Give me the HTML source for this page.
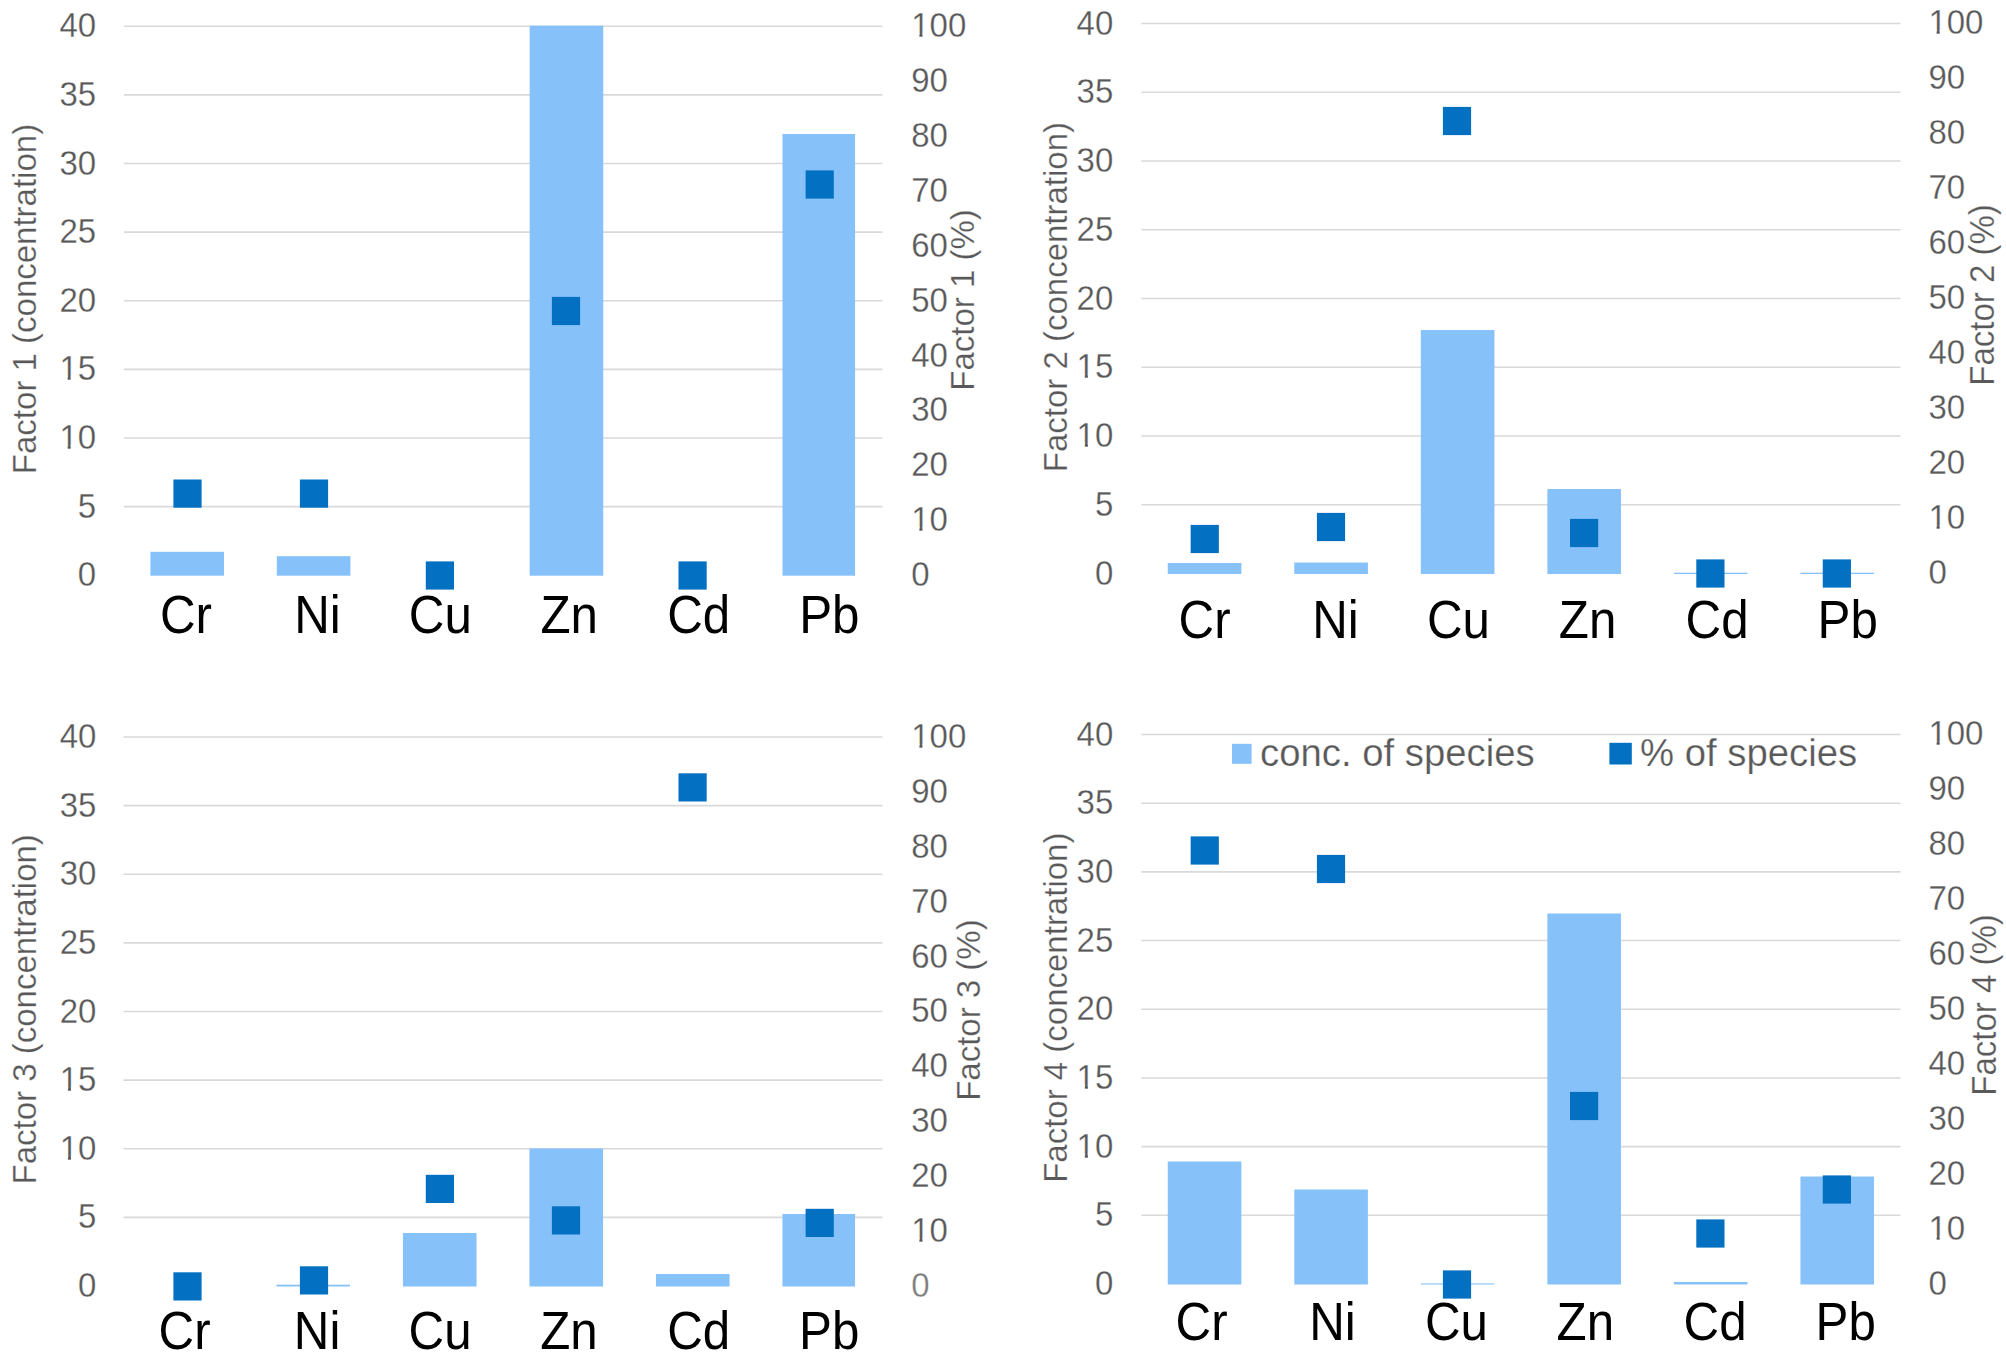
<!DOCTYPE html>
<html lang="en"><head><meta charset="utf-8"><title>Factor profiles</title>
<style>html,body{margin:0;padding:0;background:#fff}body{width:2006px;height:1362px;overflow:hidden}svg{display:block}text{font-family:"Liberation Sans", Arial, sans-serif}.t{fill:#595959;font-size:33.0px}.ti{fill:#595959;font-size:33px}.c{fill:#000;font-size:49.3px}.l{fill:#595959;font-size:38.3px}.t,.ti,.l{stroke:#fff;stroke-width:0.25px}</style>
</head><body>
<svg width="2006" height="1362" viewBox="0 0 2006 1362">
<rect width="2006" height="1362" fill="#fff"/>
<g>
<line x1="124.00" y1="506.58" x2="882.50" y2="506.58" stroke="#d9d9d9" stroke-width="1.6"/>
<line x1="124.00" y1="437.95" x2="882.50" y2="437.95" stroke="#d9d9d9" stroke-width="1.6"/>
<line x1="124.00" y1="369.33" x2="882.50" y2="369.33" stroke="#d9d9d9" stroke-width="1.6"/>
<line x1="124.00" y1="300.70" x2="882.50" y2="300.70" stroke="#d9d9d9" stroke-width="1.6"/>
<line x1="124.00" y1="232.08" x2="882.50" y2="232.08" stroke="#d9d9d9" stroke-width="1.6"/>
<line x1="124.00" y1="163.45" x2="882.50" y2="163.45" stroke="#d9d9d9" stroke-width="1.6"/>
<line x1="124.00" y1="94.83" x2="882.50" y2="94.83" stroke="#d9d9d9" stroke-width="1.6"/>
<line x1="124.00" y1="26.20" x2="882.50" y2="26.20" stroke="#d9d9d9" stroke-width="1.6"/>
<rect x="150.41" y="551.80" width="73.60" height="23.90" fill="#87c1f9"/>
<rect x="276.82" y="556.20" width="73.60" height="19.50" fill="#87c1f9"/>
<rect x="529.66" y="25.70" width="73.60" height="550.00" fill="#87c1f9"/>
<rect x="782.49" y="134.00" width="72.60" height="441.70" fill="#87c1f9"/>
<rect x="173.40" y="479.50" width="28.20" height="28.20" fill="#0370c1"/>
<rect x="299.90" y="479.50" width="28.20" height="28.20" fill="#0370c1"/>
<rect x="425.80" y="561.40" width="28.20" height="28.20" fill="#0370c1"/>
<rect x="551.90" y="296.90" width="28.20" height="28.20" fill="#0370c1"/>
<rect x="678.50" y="561.40" width="28.20" height="28.20" fill="#0370c1"/>
<rect x="805.60" y="170.40" width="28.20" height="28.20" fill="#0370c1"/>
<text class="t" transform="translate(96.10 586.30) scale(1 1.065)" text-anchor="end">0</text>
<text class="t" transform="translate(96.10 517.68) scale(1 1.065)" text-anchor="end">5</text>
<text class="t" transform="translate(96.10 449.05) scale(1 1.065)" text-anchor="end">10</text>
<text class="t" transform="translate(96.10 380.43) scale(1 1.065)" text-anchor="end">15</text>
<text class="t" transform="translate(96.10 311.80) scale(1 1.065)" text-anchor="end">20</text>
<text class="t" transform="translate(96.10 243.18) scale(1 1.065)" text-anchor="end">25</text>
<text class="t" transform="translate(96.10 174.55) scale(1 1.065)" text-anchor="end">30</text>
<text class="t" transform="translate(96.10 105.93) scale(1 1.065)" text-anchor="end">35</text>
<text class="t" transform="translate(96.10 37.30) scale(1 1.065)" text-anchor="end">40</text>
<text class="t" transform="translate(911.20 586.10) scale(1 1.065)">0</text>
<text class="t" transform="translate(911.20 531.20) scale(1 1.065)">10</text>
<text class="t" transform="translate(911.20 476.30) scale(1 1.065)">20</text>
<text class="t" transform="translate(911.20 421.40) scale(1 1.065)">30</text>
<text class="t" transform="translate(911.20 366.50) scale(1 1.065)">40</text>
<text class="t" transform="translate(911.20 311.60) scale(1 1.065)">50</text>
<text class="t" transform="translate(911.20 256.70) scale(1 1.065)">60</text>
<text class="t" transform="translate(911.20 201.80) scale(1 1.065)">70</text>
<text class="t" transform="translate(911.20 146.90) scale(1 1.065)">80</text>
<text class="t" transform="translate(911.20 92.00) scale(1 1.065)">90</text>
<text class="t" transform="translate(911.20 37.10) scale(1 1.065)">100</text>
<rect x="61.01" y="444.92" width="6.58" height="4.83" fill="#fff"/>
<rect x="70.71" y="444.92" width="6.33" height="4.83" fill="#fff"/>
<rect x="61.01" y="376.30" width="6.58" height="4.83" fill="#fff"/>
<rect x="70.71" y="376.30" width="6.33" height="4.83" fill="#fff"/>
<rect x="912.81" y="527.07" width="6.58" height="4.83" fill="#fff"/>
<rect x="922.51" y="527.07" width="6.33" height="4.83" fill="#fff"/>
<rect x="912.81" y="32.97" width="6.58" height="4.83" fill="#fff"/>
<rect x="922.51" y="32.97" width="6.33" height="4.83" fill="#fff"/>
<text class="ti" transform="translate(36.00 299.00) rotate(-90) scale(1 1.020)" text-anchor="middle">Factor 1 (concentration)</text>
<text class="ti" transform="translate(974.00 300.00) rotate(-90) scale(1 1.020)" text-anchor="middle">Factor 1 (%)</text>
<text class="c" transform="translate(186.01 632.90) scale(1 1.075)" text-anchor="middle">Cr</text>
<text class="c" transform="translate(317.43 632.90) scale(1 1.075)" text-anchor="middle">Ni</text>
<text class="c" transform="translate(440.34 632.90) scale(1 1.075)" text-anchor="middle">Cu</text>
<text class="c" transform="translate(569.16 632.90) scale(1 1.075)" text-anchor="middle">Zn</text>
<text class="c" transform="translate(698.77 632.90) scale(1 1.075)" text-anchor="middle">Cd</text>
<text class="c" transform="translate(829.29 632.90) scale(1 1.075)" text-anchor="middle">Pb</text>
</g>
<g>
<line x1="1141.30" y1="504.75" x2="1900.50" y2="504.75" stroke="#d9d9d9" stroke-width="1.6"/>
<line x1="1141.30" y1="436.00" x2="1900.50" y2="436.00" stroke="#d9d9d9" stroke-width="1.6"/>
<line x1="1141.30" y1="367.25" x2="1900.50" y2="367.25" stroke="#d9d9d9" stroke-width="1.6"/>
<line x1="1141.30" y1="298.50" x2="1900.50" y2="298.50" stroke="#d9d9d9" stroke-width="1.6"/>
<line x1="1141.30" y1="229.75" x2="1900.50" y2="229.75" stroke="#d9d9d9" stroke-width="1.6"/>
<line x1="1141.30" y1="161.00" x2="1900.50" y2="161.00" stroke="#d9d9d9" stroke-width="1.6"/>
<line x1="1141.30" y1="92.25" x2="1900.50" y2="92.25" stroke="#d9d9d9" stroke-width="1.6"/>
<line x1="1141.30" y1="23.50" x2="1900.50" y2="23.50" stroke="#d9d9d9" stroke-width="1.6"/>
<rect x="1167.77" y="563.00" width="73.60" height="11.00" fill="#87c1f9"/>
<rect x="1294.30" y="562.50" width="73.60" height="11.50" fill="#87c1f9"/>
<rect x="1420.83" y="330.00" width="73.60" height="244.00" fill="#87c1f9"/>
<rect x="1547.37" y="489.00" width="73.60" height="85.00" fill="#87c1f9"/>
<rect x="1673.90" y="572.70" width="73.60" height="1.30" fill="#87c1f9"/>
<rect x="1800.43" y="572.70" width="73.60" height="1.30" fill="#87c1f9"/>
<rect x="1190.65" y="524.90" width="28.20" height="28.20" fill="#0370c1"/>
<rect x="1316.90" y="512.90" width="28.20" height="28.20" fill="#0370c1"/>
<rect x="1442.90" y="106.90" width="28.20" height="28.20" fill="#0370c1"/>
<rect x="1570.00" y="518.90" width="28.20" height="28.20" fill="#0370c1"/>
<rect x="1696.30" y="559.40" width="28.20" height="28.20" fill="#0370c1"/>
<rect x="1822.75" y="559.40" width="28.20" height="28.20" fill="#0370c1"/>
<text class="t" transform="translate(1113.30 584.60) scale(1 1.065)" text-anchor="end">0</text>
<text class="t" transform="translate(1113.30 515.85) scale(1 1.065)" text-anchor="end">5</text>
<text class="t" transform="translate(1113.30 447.10) scale(1 1.065)" text-anchor="end">10</text>
<text class="t" transform="translate(1113.30 378.35) scale(1 1.065)" text-anchor="end">15</text>
<text class="t" transform="translate(1113.30 309.60) scale(1 1.065)" text-anchor="end">20</text>
<text class="t" transform="translate(1113.30 240.85) scale(1 1.065)" text-anchor="end">25</text>
<text class="t" transform="translate(1113.30 172.10) scale(1 1.065)" text-anchor="end">30</text>
<text class="t" transform="translate(1113.30 103.35) scale(1 1.065)" text-anchor="end">35</text>
<text class="t" transform="translate(1113.30 34.60) scale(1 1.065)" text-anchor="end">40</text>
<text class="t" transform="translate(1928.40 584.40) scale(1 1.065)">0</text>
<text class="t" transform="translate(1928.40 529.40) scale(1 1.065)">10</text>
<text class="t" transform="translate(1928.40 474.40) scale(1 1.065)">20</text>
<text class="t" transform="translate(1928.40 419.40) scale(1 1.065)">30</text>
<text class="t" transform="translate(1928.40 364.40) scale(1 1.065)">40</text>
<text class="t" transform="translate(1928.40 309.40) scale(1 1.065)">50</text>
<text class="t" transform="translate(1928.40 254.40) scale(1 1.065)">60</text>
<text class="t" transform="translate(1928.40 199.40) scale(1 1.065)">70</text>
<text class="t" transform="translate(1928.40 144.40) scale(1 1.065)">80</text>
<text class="t" transform="translate(1928.40 89.40) scale(1 1.065)">90</text>
<text class="t" transform="translate(1928.40 34.40) scale(1 1.065)">100</text>
<rect x="1078.21" y="442.97" width="6.58" height="4.83" fill="#fff"/>
<rect x="1087.91" y="442.97" width="6.33" height="4.83" fill="#fff"/>
<rect x="1078.21" y="374.22" width="6.58" height="4.83" fill="#fff"/>
<rect x="1087.91" y="374.22" width="6.33" height="4.83" fill="#fff"/>
<rect x="1930.01" y="525.27" width="6.58" height="4.83" fill="#fff"/>
<rect x="1939.71" y="525.27" width="6.33" height="4.83" fill="#fff"/>
<rect x="1930.01" y="30.27" width="6.58" height="4.83" fill="#fff"/>
<rect x="1939.71" y="30.27" width="6.33" height="4.83" fill="#fff"/>
<text class="ti" transform="translate(1067.40 297.10) rotate(-90) scale(1 1.030)" text-anchor="middle">Factor 2 (concentration)</text>
<text class="ti" transform="translate(1993.90 295.00) rotate(-90) scale(1 1.040)" text-anchor="middle">Factor 2 (%)</text>
<text class="c" transform="translate(1204.57 637.90) scale(1 1.075)" text-anchor="middle">Cr</text>
<text class="c" transform="translate(1335.40 637.90) scale(1 1.075)" text-anchor="middle">Ni</text>
<text class="c" transform="translate(1458.43 637.90) scale(1 1.075)" text-anchor="middle">Cu</text>
<text class="c" transform="translate(1587.57 637.90) scale(1 1.075)" text-anchor="middle">Zn</text>
<text class="c" transform="translate(1717.10 637.90) scale(1 1.075)" text-anchor="middle">Cd</text>
<text class="c" transform="translate(1847.73 637.90) scale(1 1.075)" text-anchor="middle">Pb</text>
</g>
<g>
<line x1="123.50" y1="1217.38" x2="882.50" y2="1217.38" stroke="#d9d9d9" stroke-width="1.6"/>
<line x1="123.50" y1="1148.75" x2="882.50" y2="1148.75" stroke="#d9d9d9" stroke-width="1.6"/>
<line x1="123.50" y1="1080.12" x2="882.50" y2="1080.12" stroke="#d9d9d9" stroke-width="1.6"/>
<line x1="123.50" y1="1011.50" x2="882.50" y2="1011.50" stroke="#d9d9d9" stroke-width="1.6"/>
<line x1="123.50" y1="942.88" x2="882.50" y2="942.88" stroke="#d9d9d9" stroke-width="1.6"/>
<line x1="123.50" y1="874.25" x2="882.50" y2="874.25" stroke="#d9d9d9" stroke-width="1.6"/>
<line x1="123.50" y1="805.62" x2="882.50" y2="805.62" stroke="#d9d9d9" stroke-width="1.6"/>
<line x1="123.50" y1="737.00" x2="882.50" y2="737.00" stroke="#d9d9d9" stroke-width="1.6"/>
<rect x="276.45" y="1284.70" width="73.60" height="1.80" fill="#87c1f9"/>
<rect x="402.95" y="1233.00" width="73.60" height="53.50" fill="#87c1f9"/>
<rect x="529.45" y="1148.50" width="73.60" height="138.00" fill="#87c1f9"/>
<rect x="655.95" y="1274.00" width="73.60" height="12.50" fill="#87c1f9"/>
<rect x="782.45" y="1214.00" width="72.60" height="72.50" fill="#87c1f9"/>
<rect x="173.40" y="1272.30" width="28.20" height="28.20" fill="#0370c1"/>
<rect x="299.90" y="1266.30" width="28.20" height="28.20" fill="#0370c1"/>
<rect x="425.80" y="1174.80" width="28.20" height="28.20" fill="#0370c1"/>
<rect x="551.90" y="1206.30" width="28.20" height="28.20" fill="#0370c1"/>
<rect x="678.50" y="773.30" width="28.20" height="28.20" fill="#0370c1"/>
<rect x="805.60" y="1208.80" width="28.20" height="28.20" fill="#0370c1"/>
<text class="t" transform="translate(96.40 1297.10) scale(1 1.065)" text-anchor="end">0</text>
<text class="t" transform="translate(96.40 1228.47) scale(1 1.065)" text-anchor="end">5</text>
<text class="t" transform="translate(96.40 1159.85) scale(1 1.065)" text-anchor="end">10</text>
<text class="t" transform="translate(96.40 1091.22) scale(1 1.065)" text-anchor="end">15</text>
<text class="t" transform="translate(96.40 1022.60) scale(1 1.065)" text-anchor="end">20</text>
<text class="t" transform="translate(96.40 953.98) scale(1 1.065)" text-anchor="end">25</text>
<text class="t" transform="translate(96.40 885.35) scale(1 1.065)" text-anchor="end">30</text>
<text class="t" transform="translate(96.40 816.73) scale(1 1.065)" text-anchor="end">35</text>
<text class="t" transform="translate(96.40 748.10) scale(1 1.065)" text-anchor="end">40</text>
<text class="t" style="fill:#7d7d7d" transform="translate(911.20 1296.90) scale(1 1.065)">0</text>
<text class="t" transform="translate(911.20 1242.00) scale(1 1.065)">10</text>
<text class="t" transform="translate(911.20 1187.10) scale(1 1.065)">20</text>
<text class="t" transform="translate(911.20 1132.20) scale(1 1.065)">30</text>
<text class="t" transform="translate(911.20 1077.30) scale(1 1.065)">40</text>
<text class="t" transform="translate(911.20 1022.40) scale(1 1.065)">50</text>
<text class="t" transform="translate(911.20 967.50) scale(1 1.065)">60</text>
<text class="t" transform="translate(911.20 912.60) scale(1 1.065)">70</text>
<text class="t" transform="translate(911.20 857.70) scale(1 1.065)">80</text>
<text class="t" transform="translate(911.20 802.80) scale(1 1.065)">90</text>
<text class="t" transform="translate(911.20 747.90) scale(1 1.065)">100</text>
<rect x="61.31" y="1155.72" width="6.58" height="4.83" fill="#fff"/>
<rect x="71.01" y="1155.72" width="6.33" height="4.83" fill="#fff"/>
<rect x="61.31" y="1087.10" width="6.58" height="4.83" fill="#fff"/>
<rect x="71.01" y="1087.10" width="6.33" height="4.83" fill="#fff"/>
<rect x="912.81" y="1237.87" width="6.58" height="4.83" fill="#fff"/>
<rect x="922.51" y="1237.87" width="6.33" height="4.83" fill="#fff"/>
<rect x="912.81" y="743.77" width="6.58" height="4.83" fill="#fff"/>
<rect x="922.51" y="743.77" width="6.33" height="4.83" fill="#fff"/>
<text class="ti" transform="translate(36.10 1009.30) rotate(-90) scale(1 1.020)" text-anchor="middle">Factor 3 (concentration)</text>
<text class="ti" transform="translate(979.70 1010.10) rotate(-90) scale(1 1.010)" text-anchor="middle">Factor 3 (%)</text>
<text class="c" transform="translate(184.55 1348.70) scale(1 1.075)" text-anchor="middle">Cr</text>
<text class="c" transform="translate(317.05 1348.70) scale(1 1.075)" text-anchor="middle">Ni</text>
<text class="c" transform="translate(440.05 1348.70) scale(1 1.075)" text-anchor="middle">Cu</text>
<text class="c" transform="translate(568.95 1348.70) scale(1 1.075)" text-anchor="middle">Zn</text>
<text class="c" transform="translate(698.65 1348.70) scale(1 1.075)" text-anchor="middle">Cd</text>
<text class="c" transform="translate(829.25 1348.70) scale(1 1.075)" text-anchor="middle">Pb</text>
</g>
<g>
<line x1="1141.30" y1="1215.31" x2="1900.50" y2="1215.31" stroke="#d9d9d9" stroke-width="1.6"/>
<line x1="1141.30" y1="1146.62" x2="1900.50" y2="1146.62" stroke="#d9d9d9" stroke-width="1.6"/>
<line x1="1141.30" y1="1077.94" x2="1900.50" y2="1077.94" stroke="#d9d9d9" stroke-width="1.6"/>
<line x1="1141.30" y1="1009.25" x2="1900.50" y2="1009.25" stroke="#d9d9d9" stroke-width="1.6"/>
<line x1="1141.30" y1="940.56" x2="1900.50" y2="940.56" stroke="#d9d9d9" stroke-width="1.6"/>
<line x1="1141.30" y1="871.88" x2="1900.50" y2="871.88" stroke="#d9d9d9" stroke-width="1.6"/>
<line x1="1141.30" y1="803.19" x2="1900.50" y2="803.19" stroke="#d9d9d9" stroke-width="1.6"/>
<line x1="1141.30" y1="734.50" x2="1900.50" y2="734.50" stroke="#d9d9d9" stroke-width="1.6"/>
<rect x="1167.77" y="1161.50" width="73.60" height="123.00" fill="#87c1f9"/>
<rect x="1294.30" y="1189.50" width="73.60" height="95.00" fill="#87c1f9"/>
<rect x="1420.83" y="1283.40" width="73.60" height="1.10" fill="#87c1f9"/>
<rect x="1547.37" y="913.50" width="73.60" height="371.00" fill="#87c1f9"/>
<rect x="1673.90" y="1282.00" width="73.60" height="2.50" fill="#87c1f9"/>
<rect x="1800.43" y="1176.50" width="73.60" height="108.00" fill="#87c1f9"/>
<rect x="1190.65" y="836.40" width="28.20" height="28.20" fill="#0370c1"/>
<rect x="1316.90" y="854.90" width="28.20" height="28.20" fill="#0370c1"/>
<rect x="1442.90" y="1270.40" width="28.20" height="28.20" fill="#0370c1"/>
<rect x="1570.00" y="1091.90" width="28.20" height="28.20" fill="#0370c1"/>
<rect x="1696.30" y="1219.40" width="28.20" height="28.20" fill="#0370c1"/>
<rect x="1822.75" y="1175.40" width="28.20" height="28.20" fill="#0370c1"/>
<text class="t" transform="translate(1113.30 1295.10) scale(1 1.065)" text-anchor="end">0</text>
<text class="t" transform="translate(1113.30 1226.41) scale(1 1.065)" text-anchor="end">5</text>
<text class="t" transform="translate(1113.30 1157.72) scale(1 1.065)" text-anchor="end">10</text>
<text class="t" transform="translate(1113.30 1089.04) scale(1 1.065)" text-anchor="end">15</text>
<text class="t" transform="translate(1113.30 1020.35) scale(1 1.065)" text-anchor="end">20</text>
<text class="t" transform="translate(1113.30 951.66) scale(1 1.065)" text-anchor="end">25</text>
<text class="t" transform="translate(1113.30 882.98) scale(1 1.065)" text-anchor="end">30</text>
<text class="t" transform="translate(1113.30 814.29) scale(1 1.065)" text-anchor="end">35</text>
<text class="t" transform="translate(1113.30 745.60) scale(1 1.065)" text-anchor="end">40</text>
<text class="t" transform="translate(1928.40 1294.90) scale(1 1.065)">0</text>
<text class="t" transform="translate(1928.40 1239.95) scale(1 1.065)">10</text>
<text class="t" transform="translate(1928.40 1185.00) scale(1 1.065)">20</text>
<text class="t" transform="translate(1928.40 1130.05) scale(1 1.065)">30</text>
<text class="t" transform="translate(1928.40 1075.10) scale(1 1.065)">40</text>
<text class="t" transform="translate(1928.40 1020.15) scale(1 1.065)">50</text>
<text class="t" transform="translate(1928.40 965.20) scale(1 1.065)">60</text>
<text class="t" transform="translate(1928.40 910.25) scale(1 1.065)">70</text>
<text class="t" transform="translate(1928.40 855.30) scale(1 1.065)">80</text>
<text class="t" transform="translate(1928.40 800.35) scale(1 1.065)">90</text>
<text class="t" transform="translate(1928.40 745.40) scale(1 1.065)">100</text>
<rect x="1078.21" y="1153.60" width="6.58" height="4.83" fill="#fff"/>
<rect x="1087.91" y="1153.60" width="6.33" height="4.83" fill="#fff"/>
<rect x="1078.21" y="1084.91" width="6.58" height="4.83" fill="#fff"/>
<rect x="1087.91" y="1084.91" width="6.33" height="4.83" fill="#fff"/>
<rect x="1930.01" y="1235.82" width="6.58" height="4.83" fill="#fff"/>
<rect x="1939.71" y="1235.82" width="6.33" height="4.83" fill="#fff"/>
<rect x="1930.01" y="741.27" width="6.58" height="4.83" fill="#fff"/>
<rect x="1939.71" y="741.27" width="6.33" height="4.83" fill="#fff"/>
<text class="ti" transform="translate(1067.00 1007.70) rotate(-90) scale(1 1.015)" text-anchor="middle">Factor 4 (concentration)</text>
<text class="ti" transform="translate(1995.60 1004.90) rotate(-90) scale(1 1.050)" text-anchor="middle">Factor 4 (%)</text>
<text class="c" transform="translate(1201.57 1340.40) scale(1 1.075)" text-anchor="middle">Cr</text>
<text class="c" transform="translate(1332.40 1340.40) scale(1 1.075)" text-anchor="middle">Ni</text>
<text class="c" transform="translate(1456.43 1340.40) scale(1 1.075)" text-anchor="middle">Cu</text>
<text class="c" transform="translate(1585.37 1340.40) scale(1 1.075)" text-anchor="middle">Zn</text>
<text class="c" transform="translate(1715.10 1340.40) scale(1 1.075)" text-anchor="middle">Cd</text>
<text class="c" transform="translate(1845.73 1340.40) scale(1 1.075)" text-anchor="middle">Pb</text>
</g>
<g>
<rect x="1232" y="743.8" width="19.6" height="20" fill="#87c1f9"/>
<text class="l" x="1260" y="766">conc. of species</text>
<rect x="1609.4" y="742.8" width="22.4" height="21.7" fill="#0370c1"/>
<text class="l" x="1640" y="766">% of species</text>
</g>
</svg>
</body></html>
